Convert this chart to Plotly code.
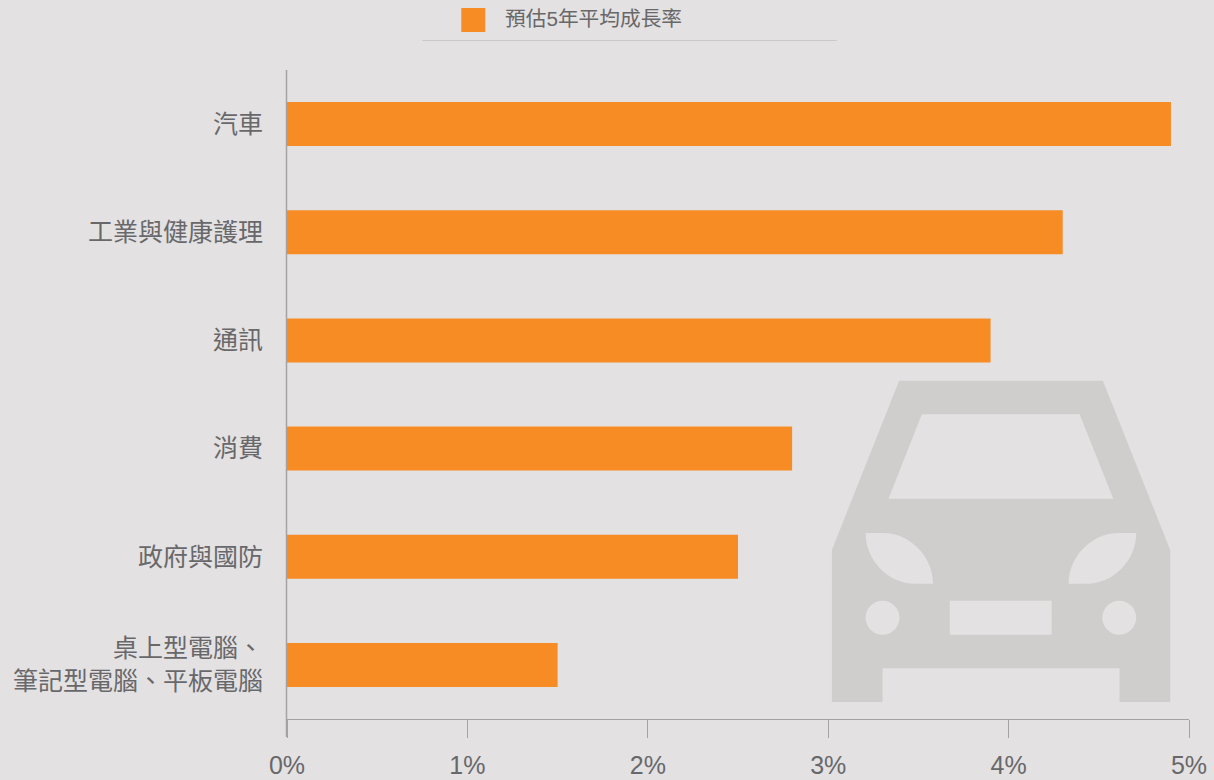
import plotly.graph_objects as go

# Chart data
categories = ["汽車", "工業與健康護理", "通訊", "消費", "政府與國防", "桌上型電腦、<br>筆記型電腦、平板電腦"]
growth_rates = [4.9, 4.3, 3.9, 2.8, 2.5, 1.5]
x_ticks = [0, 1, 2, 3, 4, 5]
x_tick_labels = ["0%", "1%", "2%", "3%", "4%", "5%"]
legend_label = "預估5年平均成長率"

# Page and plot-area geometry
WIDTH, HEIGHT = 1214, 780
LEFT, RIGHT, TOP, BOTTOM = 286.5, 1189.5, 70, 719

BG = "#e3e1e2"
ORANGE = "#f78b24"
TEXT = "#68686a"
AXIS = "#a3a3a3"
ICON = "#cfcecc"
FONT = "'Liberation Sans', 'Noto Sans CJK TC', sans-serif"


# Paper coordinates run 0-1 across the plot area, so page pixels convert relative to it
def px(x):
    return (x - LEFT) / (RIGHT - LEFT)


def py(y):
    return (BOTTOM - y) / (BOTTOM - TOP)


def pt(x, y):
    return f"{px(x):.5f},{py(y):.5f}"


def polygon(points):
    return "M" + " L".join(pt(x, y) for x, y in points) + " Z"


def circle(cx, cy, r):
    k = 0.5523 * r
    return (
        f"M{pt(cx - r, cy)}"
        f" C{pt(cx - r, cy - k)} {pt(cx - k, cy - r)} {pt(cx, cy - r)}"
        f" C{pt(cx + k, cy - r)} {pt(cx + r, cy - k)} {pt(cx + r, cy)}"
        f" C{pt(cx + r, cy + k)} {pt(cx + k, cy + r)} {pt(cx, cy + r)}"
        f" C{pt(cx - k, cy + r)} {pt(cx - r, cy + k)} {pt(cx - r, cy)} Z"
    )


def headlight(x_outer, x_inner, sign):
    # Leaf-shaped lamp: flat along the top outer and the bottom inner edge
    top, bot = 533, 583.7
    a = x_outer + sign * 17.6
    b = x_inner - sign * 18.3
    return (
        f"M{pt(x_outer, top)} L{pt(a, top)}"
        f" C{pt(a + sign * 27, top)} {pt(x_inner, bot - 27)} {pt(x_inner, bot)}"
        f" L{pt(b, bot)}"
        f" C{pt(b - sign * 27, bot)} {pt(x_outer, top + 27)} {pt(x_outer, top)} Z"
    )


# Car icon, drawn as one compound path with even-odd cut-outs
car_path = " ".join([
    polygon([(899.3, 380.7), (1103.3, 380.7), (1170.7, 550), (1170.7, 702), (1120, 702),
             (1120, 668.3), (882.7, 668.3), (882.7, 702), (832, 702), (832, 550)]),
    polygon([(922, 414.3), (1080, 414.3), (1113.7, 498.7), (888.7, 498.7)]),
    headlight(865.7, 933.3, 1),
    headlight(1136.7, 1069, -1),
    circle(882.7, 617.7, 17),
    circle(1119.7, 617.7, 17),
    polygon([(950, 600.7), (1052, 600.7), (1052, 634.7), (950, 634.7)]),
])

fig = go.Figure(
    go.Bar(
        x=growth_rates,
        y=categories,
        orientation="h",
        marker=dict(color=ORANGE, line=dict(width=0)),
        showlegend=False,
        hoverinfo="x+y",
    )
)

shapes = [
    dict(type="path", xref="paper", yref="paper", path=car_path,
         fillcolor=ICON, line=dict(width=0), fillrule="evenodd", layer="below"),
    # Vertical axis rule, continuing down past the horizontal axis
    dict(type="line", xref="paper", yref="paper", x0=px(286), x1=px(286), y0=py(TOP), y1=py(737),
         line=dict(color=AXIS, width=1.5), layer="above"),
    # Legend swatch and the rule beneath it
    dict(type="rect", xref="paper", yref="paper", x0=px(461), x1=px(485), y0=py(8), y1=py(32),
         fillcolor=ORANGE, line=dict(width=0)),
    dict(type="line", xref="paper", yref="paper", x0=px(422), x1=px(837), y0=py(40.5), y1=py(40.5),
         line=dict(color="#c9c9c9", width=1)),
]

annotations = [
    dict(xref="paper", yref="paper", x=px(505), y=py(19), text=legend_label, showarrow=False,
         xanchor="left", yanchor="middle", borderpad=0, borderwidth=0,
         font=dict(size=20.7, color=TEXT, family=FONT)),
]

fig.update_layout(
    width=WIDTH,
    height=HEIGHT,
    autosize=False,
    paper_bgcolor=BG,
    plot_bgcolor=BG,
    margin=dict(l=LEFT, r=WIDTH - RIGHT, t=TOP, b=HEIGHT - BOTTOM, pad=0),
    bargap=0.593,
    font=dict(family=FONT, color=TEXT),
    shapes=shapes,
    annotations=annotations,
    xaxis=dict(
        automargin=False,
        range=[0, 5],
        tickmode="array",
        tickvals=x_ticks,
        ticktext=x_tick_labels,
        showgrid=False,
        zeroline=False,
        showline=True,
        linecolor=AXIS,
        linewidth=1,
        ticks="outside",
        ticklen=18,
        tickwidth=1,
        tickcolor=AXIS,
        ticklabelstandoff=6,
        tickfont=dict(size=25, color=TEXT, family=FONT),
    ),
    yaxis=dict(
        automargin=False,
        autorange="reversed",
        showgrid=False,
        zeroline=False,
        showline=False,
        ticks="",
        ticklabelstandoff=23,
        tickfont=dict(size=25, color=TEXT, family=FONT),
    ),
)

fig.write_html("out.html", config=dict(displayModeBar=False))
